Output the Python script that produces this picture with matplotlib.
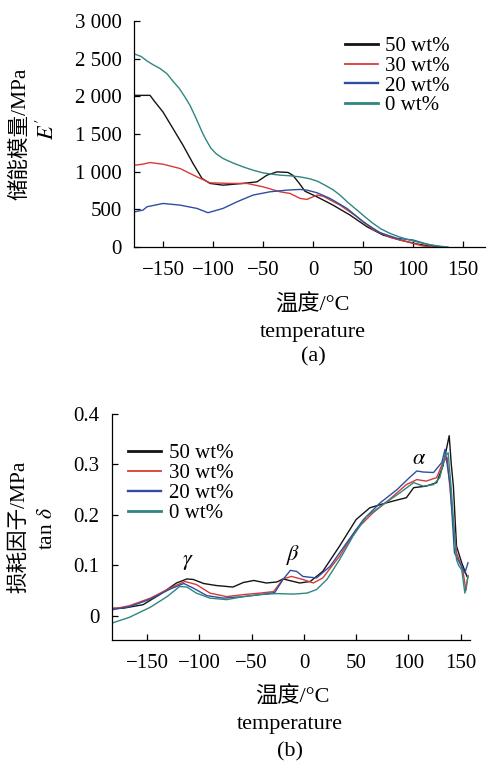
import matplotlib
matplotlib.use("Agg")
import matplotlib.pyplot as plt
from matplotlib.lines import Line2D
from matplotlib.ticker import FuncFormatter

plt.rcParams["font.family"] = ["Liberation Serif", "Noto Sans CJK SC"]
plt.rcParams["mathtext.fontset"] = "stix"

LABELS = ["50 wt%", "30 wt%", "20 wt%", "0 wt%"]
COLORS = ["#141414", "#d93a36", "#2d4f9f", "#2f8680"]
LEG_LW = [2.0, 1.3, 1.7, 2.0]

# ---- (a) storage modulus E' (MPa) vs temperature ----
T50_a = [-178, -163, -158, -150, -140, -130, -120, -111, -103, -90, -70, -56, -46,
         -36, -25, -20, -14, -8, 4, 20, 37, 54, 70, 87, 104, 120, 128]
E50_a = [2013, 2013, 1925, 1792, 1572, 1351, 1109, 910, 844, 821, 844, 865, 954,
         997, 990, 950, 850, 740, 666, 556, 424, 269, 159, 93, 40, 4, 0]
T30_a = [-178, -170, -163, -150, -133, -116, -103, -83, -66, -50, -33, -23, -13,
         -6, 4, 10, 27, 44, 60, 77, 94, 110, 124]
E30_a = [1086, 1100, 1121, 1099, 1042, 931, 852, 844, 844, 799, 733, 711, 645,
         632, 689, 675, 556, 401, 234, 128, 70, 13, 0]
T20_a = [-178, -170, -166, -150, -133, -116, -105, -90, -76, -60, -43, -26, -13,
         -6, 4, 17, 34, 50, 67, 84, 100, 117, 130]
E20_a = [468, 490, 534, 578, 556, 512, 455, 512, 600, 689, 733, 755, 764,
         755, 720, 645, 512, 336, 190, 115, 93, 26, 0]
T0_a = [-178, -172, -166, -160, -153, -146, -140, -134, -128, -123, -118, -114, -110,
        -106, -102, -97, -90, -80, -70, -60, -50, -40, -33, -23, -13, -3, 5, 12,
        20, 27, 35, 44, 52, 60, 68, 77, 86, 94, 102, 110, 118, 127, 135]
E0_a = [2560, 2530, 2470, 2420, 2370, 2300, 2200, 2110, 1990, 1880, 1740, 1620, 1500,
        1400, 1310, 1240, 1175, 1115, 1064, 1020, 984, 965, 954, 945, 931, 905, 870, 820,
        760, 689, 590, 490, 400, 314, 240, 181, 135, 102, 75, 49, 28, 10, 0]

# ---- (b) loss factor tan delta vs temperature ----
T50_b = [-186, -173, -154, -138, -122, -112, -106, -96, -84, -68, -58, -48, -36,
         -26, -20, -10, -4, 6, 18, 34, 50, 63, 79, 92, 98, 105, 117, 127, 133,
         139, 141, 143, 146, 151, 156]
D50_b = [0.015, 0.015, 0.022, 0.042, 0.065, 0.073, 0.072, 0.064, 0.060, 0.057, 0.066,
         0.070, 0.065, 0.067, 0.073, 0.068, 0.065, 0.068, 0.088, 0.138, 0.191, 0.214,
         0.224, 0.231, 0.234, 0.254, 0.257, 0.264, 0.297, 0.357, 0.300, 0.257, 0.138,
         0.105, 0.078]
T30_b = [-186, -167, -147, -128, -114, -103, -90, -74, -58, -42, -29, -20, -12,
         -1, 9, 18, 34, 50, 66, 82, 98, 108, 117, 127, 133, 137, 141, 146, 152,
         155, 157]
D30_b = [0.012, 0.020, 0.035, 0.055, 0.068, 0.062, 0.045, 0.038, 0.042, 0.045, 0.048,
         0.073, 0.078, 0.072, 0.065, 0.075, 0.118, 0.171, 0.204, 0.231, 0.260, 0.270,
         0.267, 0.274, 0.304, 0.314, 0.224, 0.125, 0.091, 0.050, 0.080]
T20_b = [-186, -167, -147, -128, -115, -106, -93, -77, -58, -42, -28, -20, -13,
         -7, -1, 12, 25, 41, 57, 73, 89, 101, 108, 114, 124, 132, 135, 140, 144,
         149, 154, 157]
D20_b = [0.011, 0.018, 0.033, 0.053, 0.064, 0.055, 0.040, 0.035, 0.038, 0.042, 0.046,
         0.072, 0.090, 0.088, 0.078, 0.075, 0.098, 0.145, 0.191, 0.224, 0.250, 0.274,
         0.287, 0.285, 0.284, 0.304, 0.330, 0.257, 0.125, 0.105, 0.085, 0.105]
T0_b = [-186, -167, -147, -131, -119, -112, -103, -90, -74, -58, -42, -26, -10,
        3, 12, 22, 34, 47, 60, 76, 92, 105, 114, 124, 130, 135, 138, 141, 143,
        146, 148, 151, 154, 157]
D0_b = [-0.016, -0.003, 0.017, 0.038, 0.058, 0.057, 0.045, 0.035, 0.032, 0.038, 0.042,
        0.044, 0.043, 0.045, 0.052, 0.072, 0.111, 0.158, 0.197, 0.221, 0.244, 0.264,
        0.257, 0.260, 0.274, 0.317, 0.323, 0.250, 0.190, 0.111, 0.100, 0.091, 0.045,
        0.078]

XTICKS = [-150, -100, -50, 0, 50, 100, 150]
YTICKS_A = [0, 500, 1000, 1500, 2000, 2500, 3000]
YTICKS_B = [0, 0.1, 0.2, 0.3, 0.4]

W, H = 489, 772
fig = plt.figure(figsize=(W / 100, H / 100), dpi=100)


def px_axes(left, top, right, bottom):
    return fig.add_axes([left / W, 1 - bottom / H, (right - left) / W, (bottom - top) / H])


def style(ax):
    for s in ["top", "right"]:
        ax.spines[s].set_visible(False)
    for s in ["left", "bottom"]:
        ax.spines[s].set_linewidth(0.9)
    ax.tick_params(direction="in", length=4, width=0.9, labelsize=15)
    ax.tick_params(axis="x", pad=10)
    ax.tick_params(axis="y", pad=9)
    ax.set_xticks(XTICKS)


# (a)
ax = px_axes(134, 21, 485, 247)
for T, E, c in zip([T50_a, T30_a, T20_a, T0_a], [E50_a, E30_a, E20_a, E0_a], COLORS):
    ax.plot(T, E, color=c, lw=1.0)
ax.set_xlim(-179, 172)
ax.set_ylim(0, 3000)
ax.set_yticks(YTICKS_A)
ax.yaxis.set_major_formatter(FuncFormatter(lambda v, p: f"{int(v):,}".replace(",", " ")))
style(ax)
handles = [Line2D([], [], color=c, lw=w) for c, w in zip(COLORS, LEG_LW)]
ax.legend(handles, LABELS, loc="upper left", bbox_to_anchor=(0.60, 0.93), frameon=False,
          fontsize=15, handlelength=1.6, handletextpad=0.35, labelspacing=0.0,
          borderpad=0, borderaxespad=0)

fig.text(20 / W, 1 - 134 / H, "储能模量/MPa", rotation=90, ha="center", va="center", fontsize=15.5)
fig.text(48 / W, 1 - 129 / H, r"$E'$", rotation=90, ha="center", va="center", fontsize=16)
fig.text(312 / W, 1 - 305 / H, "温度/°C", ha="center", va="center", fontsize=16)
fig.text(313 / W, 1 - 332 / H, "temperature", ha="center", va="center", fontsize=16)
fig.text(313 / W, 1 - 357 / H, "(a)", ha="center", va="center", fontsize=16)

# (b)
ax = px_axes(112, 414, 470, 640)
for T, D, c in zip([T50_b, T30_b, T20_b, T0_b], [D50_b, D30_b, D20_b, D0_b], COLORS):
    ax.plot(T, D, color=c, lw=1.0)
ax.set_xlim(-183.7, 158.9)
ax.set_ylim(-0.048, 0.4)
ax.set_yticks(YTICKS_B)
ax.yaxis.set_major_formatter(FuncFormatter(lambda v, p: "0" if abs(v) < 1e-9 else f"{v:.1f}"))
style(ax)
ax.legend(handles, LABELS, loc="upper left", bbox_to_anchor=(0.045, 0.87), frameon=False,
          fontsize=15, handlelength=1.6, handletextpad=0.35, labelspacing=0.02,
          borderpad=0, borderaxespad=0)
ax.text(-111, 0.105, r"$\gamma$", ha="center", va="center", fontsize=16)
ax.text(-10, 0.121, r"$\beta$", ha="center", va="center", fontsize=16)
ax.text(110, 0.31, r"$\alpha$", ha="center", va="center", fontsize=16)

fig.text(20 / W, 1 - 527 / H, "损耗因子/MPa", rotation=90, ha="center", va="center", fontsize=15.5)
fig.text(48 / W, 1 - 528 / H, r"tan $\delta$", rotation=90, ha="center", va="center", fontsize=15.5)
fig.text(292 / W, 1 - 697 / H, "温度/°C", ha="center", va="center", fontsize=16)
fig.text(290 / W, 1 - 725 / H, "temperature", ha="center", va="center", fontsize=16)
fig.text(290 / W, 1 - 752 / H, "(b)", ha="center", va="center", fontsize=16)

fig.savefig("out.png", dpi=100)
